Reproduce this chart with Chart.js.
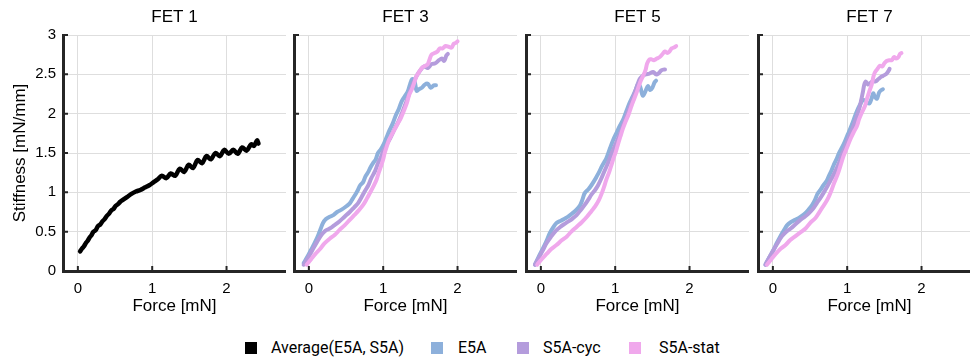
<!DOCTYPE html>
<html>
<head>
<meta charset="utf-8">
<script src="https://cdn.jsdelivr.net/npm/chart.js@4.4.1/dist/chart.umd.min.js"></script>
<style>
  html, body { margin: 0; padding: 0; background: #fff; overflow: hidden; }
  #wrap { position: relative; width: 970px; height: 359px; overflow: hidden; }
  #wrap canvas { position: absolute; top: 0; }
  .sw { position: absolute; width: 12px; height: 12px; top: 342px; }
  .lbl { position: absolute; top: 338px; font: 16px Roboto, sans-serif; color: #000; line-height: 20px; white-space: nowrap; }
</style>
</head>
<body>
<div id="wrap">
  <canvas id="fet1"></canvas>
  <canvas id="fet3"></canvas>
  <canvas id="fet5"></canvas>
  <canvas id="fet7"></canvas>
  <div id="legend"></div>
</div>
<script>
// panel titles and ticks
const panelTitles = ['FET 1', 'FET 3', 'FET 5', 'FET 7'];
const xTicks = [0, 1, 2];
const yTicks = [0, 0.5, 1, 1.5, 2, 2.5, 3];
const seriesNames = ['Average(E5A, S5A)', 'E5A', 'S5A-cyc', 'S5A-stat'];
const seriesColors = ['#000000', '#8db0db', '#b49cdc', '#f0a8ec'];

// [force mN, stiffness mN/mm]
const fet1Avg = [
  [0.03,0.25],[0.06,0.29],[0.08,0.31],[0.11,0.36],[0.13,0.38],[0.16,0.43],[0.18,0.45],[0.21,0.50],
  [0.24,0.52],[0.27,0.57],[0.30,0.59],[0.33,0.63],[0.36,0.66],[0.39,0.70],[0.42,0.73],[0.45,0.77],
  [0.48,0.79],[0.51,0.83],[0.54,0.85],[0.57,0.88],[0.60,0.90],[0.66,0.94],[0.72,0.98],[0.78,1.01],
  [0.84,1.03],[0.90,1.06],[0.96,1.09],[1.02,1.13],[1.08,1.17],[1.13,1.21],[1.19,1.18],[1.25,1.24],
  [1.31,1.21],[1.37,1.30],[1.43,1.26],[1.49,1.35],[1.55,1.31],[1.61,1.41],[1.67,1.37],[1.73,1.46],
  [1.79,1.42],[1.85,1.50],[1.91,1.46],[1.97,1.54],[2.03,1.49],[2.09,1.54],[2.15,1.49],[2.21,1.57],
  [2.27,1.53],[2.33,1.61],[2.37,1.59],[2.41,1.66],[2.43,1.62]
];

const fet3E5A = [
  [-0.07,0.10],[-0.02,0.18],[0.03,0.27],[0.08,0.36],[0.12,0.44],[0.16,0.54],[0.19,0.61],[0.23,0.66],
  [0.28,0.69],[0.33,0.71],[0.38,0.75],[0.44,0.78],[0.50,0.82],[0.55,0.86],[0.59,0.92],[0.63,0.98],
  [0.66,1.03],[0.69,1.09],[0.73,1.13],[0.76,1.20],[0.80,1.26],[0.83,1.32],[0.87,1.38],[0.90,1.42],
  [0.93,1.50],[0.97,1.55],[1.01,1.62],[1.05,1.71],[1.09,1.80],[1.13,1.88],[1.17,1.98],[1.21,2.06],
  [1.25,2.16],[1.29,2.22],[1.33,2.28],[1.36,2.37],[1.39,2.44],[1.42,2.42],[1.45,2.29],[1.48,2.31],
  [1.52,2.33],[1.56,2.37],[1.60,2.38],[1.64,2.33],[1.68,2.36],[1.71,2.36]
];
const fet3Cyc = [
  [-0.07,0.08],[-0.01,0.17],[0.05,0.27],[0.11,0.37],[0.17,0.46],[0.22,0.51],[0.28,0.54],[0.34,0.58],
  [0.41,0.63],[0.48,0.69],[0.55,0.75],[0.61,0.81],[0.66,0.86],[0.71,0.94],[0.75,1.01],[0.80,1.09],
  [0.84,1.18],[0.89,1.27],[0.93,1.37],[0.97,1.45],[1.00,1.52],[1.05,1.61],[1.10,1.70],[1.15,1.80],
  [1.20,1.89],[1.25,2.00],[1.29,2.10],[1.33,2.20],[1.37,2.31],[1.41,2.40],[1.45,2.48],[1.49,2.54],
  [1.55,2.60],[1.60,2.58],[1.65,2.63],[1.70,2.64],[1.75,2.68],[1.79,2.70],[1.82,2.67],[1.85,2.74],
  [1.87,2.76]
];
const fet3Stat = [
  [-0.03,0.08],[0.03,0.15],[0.09,0.22],[0.15,0.28],[0.21,0.35],[0.28,0.41],[0.35,0.46],[0.41,0.52],
  [0.48,0.58],[0.55,0.65],[0.61,0.71],[0.67,0.77],[0.73,0.84],[0.78,0.92],[0.82,0.99],[0.87,1.08],
  [0.91,1.16],[0.94,1.25],[0.97,1.33],[1.00,1.42],[1.02,1.50],[1.05,1.59],[1.08,1.67],[1.12,1.74],
  [1.16,1.81],[1.20,1.88],[1.24,1.95],[1.28,2.04],[1.32,2.14],[1.35,2.24],[1.39,2.32],[1.42,2.40],
  [1.45,2.48],[1.49,2.54],[1.53,2.59],[1.57,2.61],[1.60,2.63],[1.62,2.68],[1.65,2.75],[1.69,2.77],
  [1.73,2.79],[1.76,2.83],[1.80,2.83],[1.84,2.86],[1.88,2.85],[1.92,2.84],[1.95,2.89],[1.98,2.90],
  [2.00,2.92]
];

const fet5E5A = [
  [-0.08,0.08],[-0.03,0.18],[0.03,0.29],[0.08,0.39],[0.12,0.48],[0.17,0.56],[0.21,0.61],[0.27,0.64],
  [0.33,0.67],[0.38,0.70],[0.42,0.73],[0.48,0.78],[0.53,0.84],[0.56,0.91],[0.59,0.99],[0.64,1.04],
  [0.68,1.09],[0.72,1.15],[0.75,1.20],[0.79,1.27],[0.82,1.33],[0.85,1.38],[0.88,1.43],[0.93,1.56],
  [0.97,1.66],[1.02,1.76],[1.06,1.84],[1.11,1.93],[1.15,2.03],[1.19,2.13],[1.23,2.21],[1.27,2.29],
  [1.31,2.38],[1.34,2.33],[1.37,2.23],[1.40,2.27],[1.44,2.35],[1.47,2.30],[1.50,2.33],[1.53,2.40],
  [1.55,2.42]
];
const fet5Cyc = [
  [-0.08,0.08],[-0.02,0.18],[0.03,0.27],[0.08,0.36],[0.14,0.44],[0.20,0.51],[0.26,0.56],[0.32,0.60],
  [0.37,0.63],[0.43,0.67],[0.48,0.71],[0.54,0.78],[0.59,0.84],[0.64,0.91],[0.68,0.97],[0.73,1.03],
  [0.77,1.09],[0.82,1.19],[0.86,1.28],[0.91,1.39],[0.95,1.49],[0.99,1.58],[1.04,1.69],[1.09,1.81],
  [1.14,1.94],[1.19,2.07],[1.24,2.20],[1.29,2.34],[1.33,2.44],[1.37,2.48],[1.41,2.50],[1.46,2.51],
  [1.51,2.53],[1.55,2.50],[1.58,2.51],[1.62,2.55],[1.65,2.56],[1.67,2.56]
];
const fet5Stat = [
  [-0.05,0.08],[0.01,0.15],[0.08,0.22],[0.14,0.28],[0.21,0.33],[0.28,0.39],[0.35,0.44],[0.41,0.50],
  [0.48,0.56],[0.55,0.62],[0.62,0.69],[0.68,0.76],[0.73,0.82],[0.78,0.90],[0.82,0.99],[0.85,1.07],
  [0.88,1.16],[0.92,1.26],[0.95,1.35],[0.98,1.44],[1.01,1.52],[1.04,1.62],[1.07,1.71],[1.10,1.80],
  [1.14,1.90],[1.18,1.99],[1.22,2.10],[1.26,2.20],[1.30,2.30],[1.34,2.41],[1.38,2.49],[1.41,2.56],
  [1.43,2.64],[1.46,2.69],[1.49,2.69],[1.52,2.68],[1.56,2.70],[1.60,2.72],[1.63,2.75],[1.67,2.79],
  [1.70,2.77],[1.73,2.79],[1.76,2.83],[1.79,2.84],[1.82,2.86]
];

const fet7E5A = [
  [-0.10,0.08],[-0.05,0.17],[0.01,0.27],[0.05,0.35],[0.10,0.44],[0.15,0.52],[0.19,0.58],[0.24,0.62],
  [0.30,0.65],[0.36,0.68],[0.42,0.72],[0.48,0.78],[0.53,0.84],[0.57,0.91],[0.60,0.98],[0.64,1.03],
  [0.68,1.09],[0.72,1.14],[0.75,1.20],[0.79,1.28],[0.82,1.35],[0.86,1.43],[0.89,1.50],[0.93,1.57],
  [0.97,1.65],[1.01,1.74],[1.05,1.83],[1.09,1.93],[1.13,2.03],[1.17,2.11],[1.21,2.17],[1.24,2.17],
  [1.27,2.14],[1.30,2.13],[1.33,2.20],[1.35,2.26],[1.37,2.22],[1.40,2.19],[1.43,2.27],[1.46,2.30],
  [1.48,2.31]
];
const fet7Cyc = [
  [-0.10,0.08],[-0.05,0.17],[0.01,0.27],[0.06,0.35],[0.12,0.44],[0.18,0.50],[0.24,0.54],[0.30,0.59],
  [0.37,0.65],[0.43,0.69],[0.48,0.73],[0.54,0.79],[0.59,0.86],[0.64,0.93],[0.68,0.99],[0.73,1.07],
  [0.77,1.14],[0.82,1.23],[0.86,1.31],[0.90,1.40],[0.93,1.48],[0.97,1.57],[1.01,1.67],[1.05,1.76],
  [1.08,1.83],[1.11,1.91],[1.14,2.00],[1.17,2.09],[1.19,2.18],[1.21,2.27],[1.23,2.37],[1.25,2.41],
  [1.28,2.37],[1.31,2.39],[1.34,2.41],[1.38,2.41],[1.42,2.44],[1.46,2.47],[1.50,2.49],[1.53,2.51],
  [1.56,2.55],[1.57,2.57]
];
const fet7Stat = [
  [-0.08,0.08],[-0.02,0.15],[0.04,0.22],[0.10,0.28],[0.17,0.33],[0.23,0.39],[0.30,0.44],[0.37,0.49],
  [0.44,0.54],[0.50,0.61],[0.57,0.67],[0.62,0.74],[0.66,0.80],[0.71,0.87],[0.75,0.94],[0.79,1.03],
  [0.82,1.11],[0.86,1.20],[0.89,1.28],[0.92,1.37],[0.95,1.46],[0.98,1.53],[1.01,1.60],[1.05,1.69],
  [1.09,1.77],[1.13,1.84],[1.16,1.93],[1.20,2.02],[1.24,2.10],[1.27,2.20],[1.30,2.29],[1.33,2.37],
  [1.35,2.46],[1.37,2.52],[1.40,2.56],[1.44,2.61],[1.47,2.60],[1.50,2.64],[1.53,2.67],[1.57,2.68],
  [1.60,2.68],[1.63,2.72],[1.66,2.70],[1.69,2.72],[1.71,2.76],[1.73,2.77]
];

const axisColor = '#262626';
const gridColor = '#dedede';
const tickFont = { family: 'Liberation Sans', size: 15 };
const titleFont = { family: 'Liberation Sans', size: 17 };

// left edge of each plot area, and its width
const plotLeft = [63, 294, 526, 758];
const plotWidth = 223;

// short tick marks drawn inward from the axes
const innerTicks = {
  id: 'innerTicks',
  afterDraw(chart) {
    const { ctx, chartArea, scales: { x, y } } = chart;
    ctx.save();
    ctx.strokeStyle = axisColor;
    ctx.lineWidth = 2;
    ctx.beginPath();
    y.ticks.forEach(t => {
      const py = y.getPixelForValue(t.value);
      ctx.moveTo(chartArea.left, py);
      ctx.lineTo(chartArea.left + 5, py);
    });
    x.ticks.forEach(t => {
      const px = x.getPixelForValue(t.value);
      ctx.moveTo(px, chartArea.bottom);
      ctx.lineTo(px, chartArea.bottom - 5);
    });
    ctx.stroke();
    ctx.restore();
  }
};

const line = (label, pts, color, order, width) => ({
  label: label,
  data: pts.map(p => ({ x: p[0], y: p[1] })),
  borderColor: color,
  backgroundColor: color,
  borderWidth: width,
  borderCapStyle: 'round',
  borderJoinStyle: 'round',
  pointRadius: 0,
  tension: 0.35,
  order: order
});

const panelData = [
  [line(seriesNames[0], fet1Avg, seriesColors[0], 1, 4.5)],
  [line(seriesNames[1], fet3E5A, seriesColors[1], 3, 4), line(seriesNames[2], fet3Cyc, seriesColors[2], 2, 4), line(seriesNames[3], fet3Stat, seriesColors[3], 1, 4)],
  [line(seriesNames[1], fet5E5A, seriesColors[1], 3, 4), line(seriesNames[2], fet5Cyc, seriesColors[2], 2, 4), line(seriesNames[3], fet5Stat, seriesColors[3], 1, 4)],
  [line(seriesNames[1], fet7E5A, seriesColors[1], 3, 4), line(seriesNames[2], fet7Cyc, seriesColors[2], 2, 4), line(seriesNames[3], fet7Stat, seriesColors[3], 1, 4)]
];

const canvasHeight = 320;
['fet1', 'fet3', 'fet5', 'fet7'].forEach((id, i) => {
  const first = i === 0;
  const yw = first ? 63 : 6;
  const cv = document.getElementById(id);
  cv.width = yw + plotWidth;
  cv.height = canvasHeight;
  cv.style.left = (plotLeft[i] - yw) + 'px';

  new Chart(cv, {
    type: 'line',
    data: { datasets: panelData[i] },
    options: {
      responsive: false,
      animation: false,
      layout: { padding: 0 },
      plugins: {
        legend: { display: false },
        tooltip: { enabled: false },
        title: {
          display: true,
          text: panelTitles[i],
          fullSize: false,
          color: '#000',
          font: { family: 'Liberation Sans', size: 17, weight: 'normal' },
          padding: { top: 7, bottom: 7.6 }
        }
      },
      scales: {
        x: {
          type: 'linear',
          min: -0.2,
          max: 2.8,
          afterBuildTicks: s => { s.ticks = xTicks.map(v => ({ value: v })); },
          afterFit: s => { s.height = canvasHeight - 271; },
          ticks: { font: tickFont, color: '#000', padding: 9, maxRotation: 0, callback: v => String(v) },
          grid: { color: gridColor, drawTicks: false },
          border: { display: true, color: axisColor, width: 3 },
          title: { display: true, text: 'Force [mN]', color: '#000', font: titleFont, padding: { top: 0, bottom: 3 } }
        },
        y: {
          min: 0,
          max: 3,
          afterBuildTicks: s => { s.ticks = yTicks.map(v => ({ value: v })); },
          afterFit: s => { s.width = yw; },
          ticks: { display: first, font: tickFont, color: '#000', padding: 7, callback: v => String(v) },
          grid: { color: gridColor, drawTicks: false },
          border: { display: true, color: axisColor, width: 3 },
          title: { display: first, text: 'Stiffness [mN/mm]', color: '#000', font: titleFont, padding: { top: 10, bottom: 0 } }
        }
      }
    },
    plugins: [innerTicks]
  });
});

// legend below the panels
const legend = document.getElementById('legend');
const swatchLeft = [245, 431, 517, 629];
const labelLeft = [271, 458, 543, 659];
seriesNames.forEach((name, i) => {
  const sw = document.createElement('div');
  sw.className = 'sw';
  sw.style.left = swatchLeft[i] + 'px';
  sw.style.background = seriesColors[i];
  legend.appendChild(sw);
  const lb = document.createElement('div');
  lb.className = 'lbl';
  lb.style.left = labelLeft[i] + 'px';
  lb.textContent = name;
  legend.appendChild(lb);
});
</script>
</body>
</html>
